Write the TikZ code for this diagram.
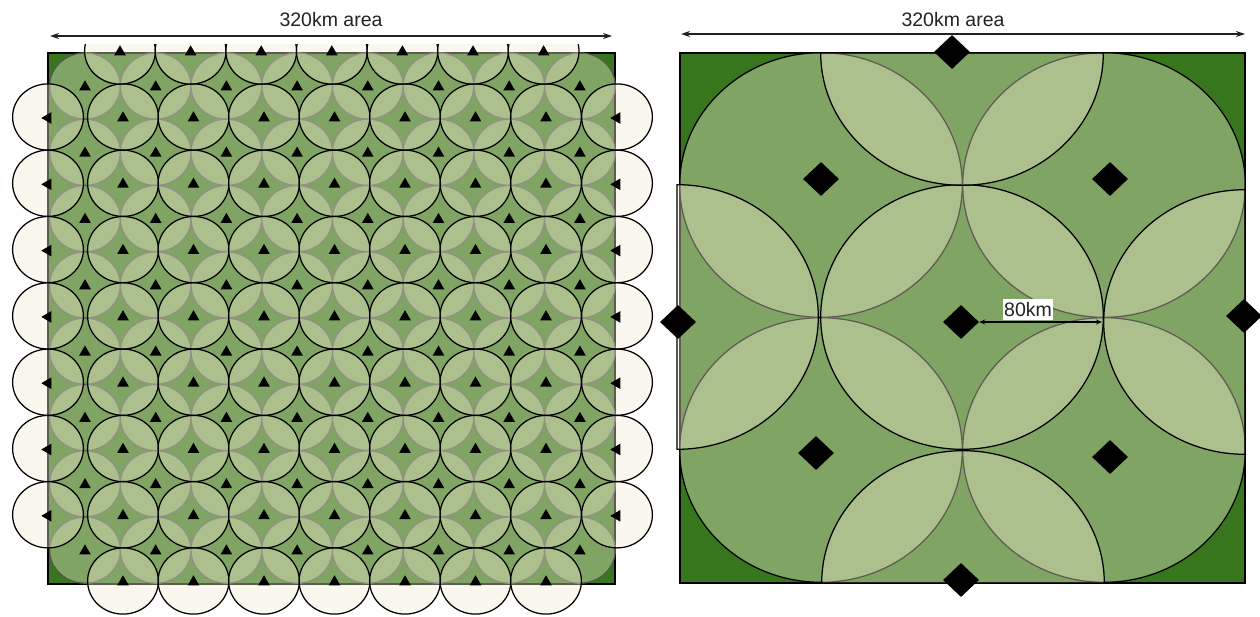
\documentclass[tikz,border=0pt]{standalone}
\usepackage{fontspec}
\setmainfont{Liberation Sans}
\usetikzlibrary{shapes.geometric,arrows.meta}
\definecolor{darkgreen}{RGB}{56,118,29}
\definecolor{cream}{RGB}{242,238,211}
\definecolor{ringgray}{RGB}{85,85,85}
\definecolor{inkgray}{RGB}{34,34,34}
\begin{document}
\begin{tikzpicture}[x=1pt,y=-1pt,
  cell/.style={fill=cream, fill opacity=0.39, draw=black, line width=1.25pt},
  cellb/.style={fill=cream, fill opacity=0.39, draw=ringgray, line width=1.25pt},
  frame/.style={draw=black, line width=1.3pt},
  tri/.style={regular polygon, regular polygon sides=3, fill=black, inner sep=0pt, minimum size=13.5pt},
  trileft/.style={tri, regular polygon rotate=90},
  gem/.style={diamond, fill=black, inner sep=0pt, minimum width=36pt, minimum height=34pt},
  area/.style={draw=inkgray, line width=1.3pt, {Stealth[length=9pt,width=6pt]}-{Stealth[length=9pt,width=6pt]}},
  short/.style={draw=black, line width=1.1pt, {Stealth[length=6pt,width=5pt]}-{Stealth[length=6pt,width=5pt]}},
  lbl/.style={font=\fontsize{19.5}{22}\selectfont, text=inkgray, inner sep=0pt, anchor=base},
]
\useasboundingbox (0,0) rectangle (1260,616);

% ---------------- left panel ----------------
\fill[darkgreen] (48,53) rectangle (615,584);
\draw[frame] (48,53) rectangle (615,584);
% offset lattice (under)
\foreach \i in {0,...,7}{
  \foreach \j in {0,...,7}{
    \path[cellb] (85+70.7*\i,86+66.3*\j) ellipse [x radius=35.4, y radius=33.1];
  }
}
% main lattice interior
\foreach \i in {0,...,6}{
  \foreach \j in {0,...,6}{
    \path[cell] (123+70.5*\i,117+66.3*\j) ellipse [x radius=35.4, y radius=33.1];
  }
}
% edge columns and bottom row
\foreach \j in {0,...,6}{
  \path[cell] (48,117+66.3*\j) ellipse [x radius=35.4, y radius=33.1];
  \path[cell] (617,117+66.3*\j) ellipse [x radius=35.4, y radius=33.1];
}
\foreach \i in {0,...,6}{
  \path[cell] (123+70.5*\i,581) ellipse [x radius=35.4, y radius=33.1];
}
% top row, clipped
\begin{scope}
  \clip (0,44) rectangle (1260,616);
  \foreach \i in {0,...,6}{
    \path[cell] (120+70.6*\i,51) ellipse [x radius=35.4, y radius=33.1];
  }
\end{scope}
% triangles
\foreach \i in {0,...,7}{
  \foreach \j in {0,...,7}{
    \node[tri] (tb-\i-\j) at (85+70.7*\i,87+66.3*\j) {};
  }
}
\foreach \i in {0,...,6}{
  \foreach \j in {0,...,6}{
    \node[tri] (ta-\i-\j) at (123+70.5*\i,118+66.3*\j) {};
  }
  \node[tri] (tt-\i) at (120+70.6*\i,52) {};
  \node[tri] (tbot-\i) at (123+70.5*\i,582) {};
}
\foreach \j in {0,...,6}{
  \node[trileft] (tl-\j) at (48,118+66.3*\j) {};
  \node[trileft] (tr-\j) at (617,118+66.3*\j) {};
}
% dimension arrow
\coordinate (aL1) at (50,36);
\coordinate (aL2) at (612,36);
\draw[area] (aL1) -- (aL2);
\node[lbl] (labL) at (331,26.7) {320km area};

% ---------------- right panel ----------------
\fill[darkgreen] (680,53) rectangle (1245,583);
\draw[frame] (680,53) rectangle (1245,583);
\foreach \cx/\cy in {821/185, 1104/185, 821/450, 1104/450}{
  \path[cell] (\cx,\cy) ellipse [x radius=141.3, y radius=132.3];
}
\path[cell] (962,317) ellipse [x radius=141.3, y radius=132.3];
\path[cell] (820.7,53) arc [start angle=180, end angle=0, x radius=141.3, y radius=132.3] -- cycle;
\path[cell] (821.7,583) arc [start angle=180, end angle=360, x radius=141.3, y radius=132.3] -- cycle;
\path[cell] (677,184.7) arc [start angle=-90, end angle=90, x radius=141.3, y radius=132.3] -- cycle;
\path[cell] (1245,189.7) arc [start angle=270, end angle=90, x radius=141.3, y radius=132.3] -- cycle;
% diamonds
\node[gem] (dTL) at (821,179) {};
\node[gem] (dTR) at (1110,179) {};
\node[gem] (dBL) at (816,453) {};
\node[gem] (dBR) at (1110,457) {};
\node[gem] (dC) at (961,322) {};
\node[gem] (dT) at (952,52) {};
\node[gem] (dL) at (678,322) {};
\node[gem] (dR) at (1244,316) {};
\node[gem] (dB) at (961,580) {};
% 80km
\coordinate (r80) at (1102,322);
\draw[short] (dC.east) -- (r80);
\node[lbl, fill=white, inner xsep=1.2pt, inner ysep=3.8pt] (k80) at (1028,316.5) {80km};
% dimension arrow
\coordinate (aR1) at (681,34);
\coordinate (aR2) at (1245,34);
\draw[area] (aR1) -- (aR2);
\node[lbl] (labR) at (953,26) {320km area};
\end{tikzpicture}
\end{document}
